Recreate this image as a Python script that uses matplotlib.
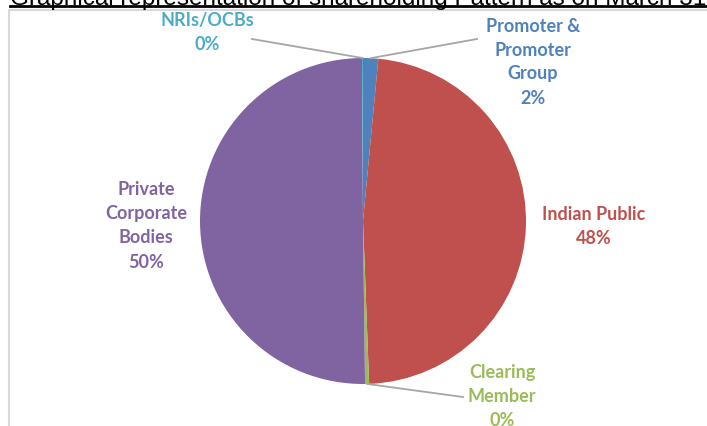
"""Shareholding pattern pie, redrawn."""
import matplotlib
matplotlib.use('Agg')
import matplotlib.pyplot as plt
import numpy as np

labels = ['Promoter &\nPromoter\nGroup', 'Indian Public', 'Clearing\nMember',
          'Private\nCorporate\nBodies', 'NRIs/OCBs']
shares = [1.5, 47.9, 0.4, 50.1, 0.1]
colors = ['#4F81BD', '#C0504D', '#9BBB59', '#8064A2', '#4BACC6']

W, H = 707, 427
fig = plt.figure(figsize=(W / 100, H / 100), dpi=100)
ax = fig.add_axes([0, 0, 1, 1])

def py(y):  # pixel y (top origin) -> data y
    return H - y

cx, cy, R = 363, py(222), 163
wedges, _ = ax.pie(shares, colors=colors, startangle=90, counterclock=False,
                   center=(cx, cy), radius=R, wedgeprops=dict(linewidth=0),
                   frame=True)
ax.set_xlim(0, W)
ax.set_ylim(0, H)
ax.set_aspect('equal')
ax.axis('off')

# chart frame (left and top edge only visible)
ax.plot([9, 9, W], [0, py(11), py(11)], color='#d9d9d9', lw=1.5, zorder=0)

# clipped title at the very top
ax.text(10, py(5), 'Graphical representation of shareholding Pattern as on March 31',
        fontsize=17.5, family='Liberation Sans', color='black', va='baseline', ha='left')
ax.plot([10, W], [py(6.5), py(6.5)], color='black', lw=2)

# label text: (center x, center y in pixels), leader line end or None
label_pos = [(533, 62, (477, 40)), (594, 227, None), (502, 397, (463, 398)),
             (146, 226, None), (207, 32.5, (252, 40))]

for w, lab, val, col, (lx, ly, lead) in zip(wedges, labels, shares, colors, label_pos):
    txt = f'{lab}\n{round(val):.0f}%'
    ax.text(lx, py(ly), txt, ha='center', va='center', color=col,
            fontsize=13, family='Lato', fontweight='bold', linespacing=1.5)
    if lead is not None:
        ang = np.radians((w.theta1 + w.theta2) / 2)
        ex, ey = cx + R * np.cos(ang), cy + R * np.sin(ang)
        ax.plot([lead[0], ex], [py(lead[1]), ey], color='#a6a6a6', lw=1.3, zorder=3)

fig.savefig('out.png', dpi=100)
